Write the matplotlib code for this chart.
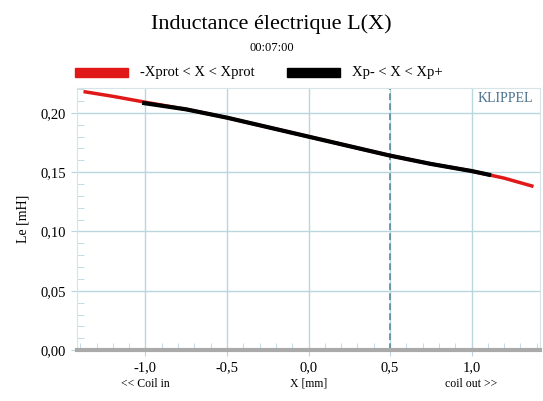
import matplotlib
matplotlib.use('Agg')
import matplotlib.pyplot as plt
from matplotlib.ticker import MultipleLocator, FuncFormatter

plt.rcParams['font.family'] = ['Liberation Serif', 'DejaVu Serif']

# data
x_prot = [-1.38, -1.2, -1.0, -0.75, -0.5, -0.25, 0.0, 0.25, 0.5, 0.75, 1.0, 1.2, 1.38]
l_prot = [0.218, 0.214, 0.209, 0.203, 0.196, 0.188, 0.180, 0.172, 0.164, 0.157, 0.151, 0.145, 0.138]
x_p = [-1.02, -0.75, -0.5, -0.25, 0.0, 0.25, 0.5, 0.75, 1.0, 1.12]
l_p = [0.2085, 0.203, 0.196, 0.188, 0.180, 0.172, 0.164, 0.157, 0.151, 0.1475]
xp_dash = 0.5
xticks = [-1.0, -0.5, 0.0, 0.5, 1.0]
yticks = [0.0, 0.05, 0.10, 0.15, 0.20]

fig = plt.figure(figsize=(5.43, 4.01), dpi=100)
ax = fig.add_axes([0.1418, 0.127, 0.8527, 0.6535])

grid_c = '#b9d6de'
ax.plot(x_prot, l_prot, color='#e01818', lw=2.5, solid_capstyle='butt', zorder=3)
ax.plot(x_p, l_p, color='black', lw=3, solid_capstyle='butt', zorder=4)
ax.axvline(xp_dash, color='#5a8a96', lw=1.2, ls=(0, (4, 2)), zorder=2)

ax.set_xlim(-1.42, 1.42)
ax.set_ylim(0, 0.221)
ax.set_xticks(xticks)
ax.set_yticks(yticks)
ax.xaxis.set_minor_locator(MultipleLocator(0.1))
ax.yaxis.set_minor_locator(MultipleLocator(0.01))
fmt = FuncFormatter(lambda v, p: ('%.1f' % v).replace('.', ','))
ax.xaxis.set_major_formatter(fmt)
ax.yaxis.set_major_formatter(FuncFormatter(lambda v, p: ('%.2f' % v).replace('.', ',')))
ax.grid(True, which='major', color=grid_c, lw=1)
ax.tick_params(which='major', length=4, color=grid_c, labelsize=10.5, pad=4)
ax.tick_params(which='minor', direction='in', length=5, color=grid_c)
for s in ['top', 'right', 'left']:
    ax.spines[s].set_color('#d6e4e8')
ax.spines['bottom'].set_color('#aaaaaa')
ax.spines['bottom'].set_linewidth(3)

ax.set_ylabel('Le [mH]', fontsize=10, labelpad=8)
ax.text(0.0, -0.105, 'X [mm]', transform=ax.get_xaxis_transform(), ha='center', va='top', fontsize=8.5)
ax.text(-1.0, -0.105, '<< Coil in', transform=ax.get_xaxis_transform(), ha='center', va='top', fontsize=8.5)
ax.text(1.0, -0.105, 'coil out >>', transform=ax.get_xaxis_transform(), ha='center', va='top', fontsize=8.5)
ax.text(0.985, 0.985, 'KLIPPEL', transform=ax.transAxes, ha='right', va='top', fontsize=10, color='#4a6f8a')

fig.text(0.5, 0.965, 'Inductance électrique L(X)', ha='center', va='top', fontsize=16)
fig.text(0.5, 0.895, '00:07:00', ha='center', va='top', fontsize=9)

# legend row
fig.patches.append(plt.Rectangle((0.138, 0.808), 0.098, 0.022, transform=fig.transFigure, color='#e01818'))
fig.text(0.258, 0.819, '-Xprot < X < Xprot', ha='left', va='center', fontsize=10.5)
fig.patches.append(plt.Rectangle((0.529, 0.808), 0.098, 0.022, transform=fig.transFigure, color='black'))
fig.text(0.648, 0.819, 'Xp- < X < Xp+', ha='left', va='center', fontsize=10.5)

fig.savefig('out.png', dpi=100)
